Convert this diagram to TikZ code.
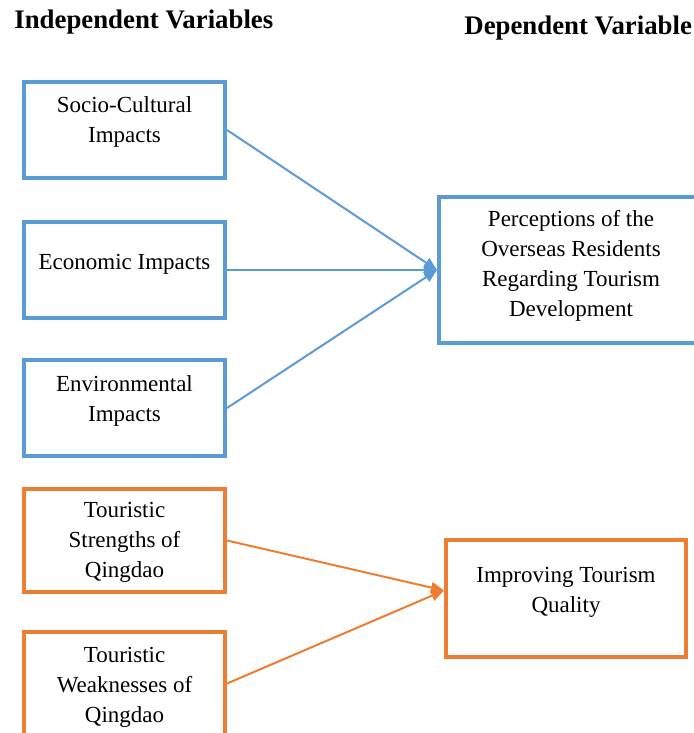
\documentclass[tikz,border=0pt]{standalone}
\usepackage{fontspec}
\setmainfont{Liberation Serif}
\usetikzlibrary{arrows.meta,positioning,calc}
\definecolor{boxblue}{HTML}{5B9BD5}
\definecolor{boxorange}{HTML}{ED7D31}
% invisible struts to nudge the text inside a box
\newcommand{\liftby}[1]{\rule[-#1]{0pt}{#1}}
\newcommand{\dropby}[1]{\rule{0pt}{#1}}

\begin{document}
\begin{tikzpicture}
    [x=0.5pt, y=-0.5pt,
      varbox/.style={draw, line width=2pt, align=center, inner sep=0pt,
          font=\fontsize{11.5}{15}\selectfont},
      leftbox/.style={varbox, minimum width=100.5pt, minimum height=48pt},
      heading/.style={anchor=west, inner sep=0pt, font=\fontsize{13.4}{16}\selectfont\bfseries},
      link/.style={line width=1pt, -{Triangle[length=6.5pt,width=5.5pt]}},
    ]
    \useasboundingbox (0,0) rectangle (694,733);
    \clip (0,0) rectangle (694,733);

    \node [heading] (indep) at (14,22) {Independent Variables};
    \node [heading] (dep) at (464,28) {Dependent Variable};

    % impacts
    \node [leftbox, draw=boxblue] (socio) at (124.5,130) {Socio-Cultural\\Impacts\liftby{10.6pt}};
    \node [leftbox, draw=boxblue] (econ) at (124.5,270) {Economic Impacts\liftby{8.6pt}};
    \node [leftbox, draw=boxblue] (envi) at (124.5,408) {Environmental\\Impacts\liftby{9.6pt}};
    \node [varbox, draw=boxblue, minimum width=132pt, minimum height=73pt] (percep) at (571,270)
      {Perceptions of the\\Overseas Residents\\Regarding Tourism\\Development\liftby{6.6pt}};

    % strengths and weaknesses
    \node [leftbox, draw=boxorange, minimum height=51.5pt] (strong) at (124.5,540.5)
      {\dropby{9pt}Touristic\\Strengths of\\Qingdao};
    \node [leftbox, draw=boxorange, minimum height=51.5pt] (weak) at (124.5,683.5)
      {\dropby{11pt}Touristic\\Weaknesses of\\Qingdao};
    \node [varbox, draw=boxorange, minimum width=120pt, minimum height=58.5pt] (quality) at (566,598.5)
      {Improving Tourism\\Quality\liftby{8.6pt}};

    \draw [link, boxblue] (socio.east) -- (percep.west);
    \draw [link, boxblue] (econ.east) -- (percep.west);
    \draw [link, boxblue] (envi.east) -- (percep.west);
    \draw [link, boxorange] (strong.east) -- ([yshift=4pt]quality.west);
    \draw [link, boxorange] (weak.east) -- ([yshift=4pt]quality.west);
  \end{tikzpicture}
\end{document}
